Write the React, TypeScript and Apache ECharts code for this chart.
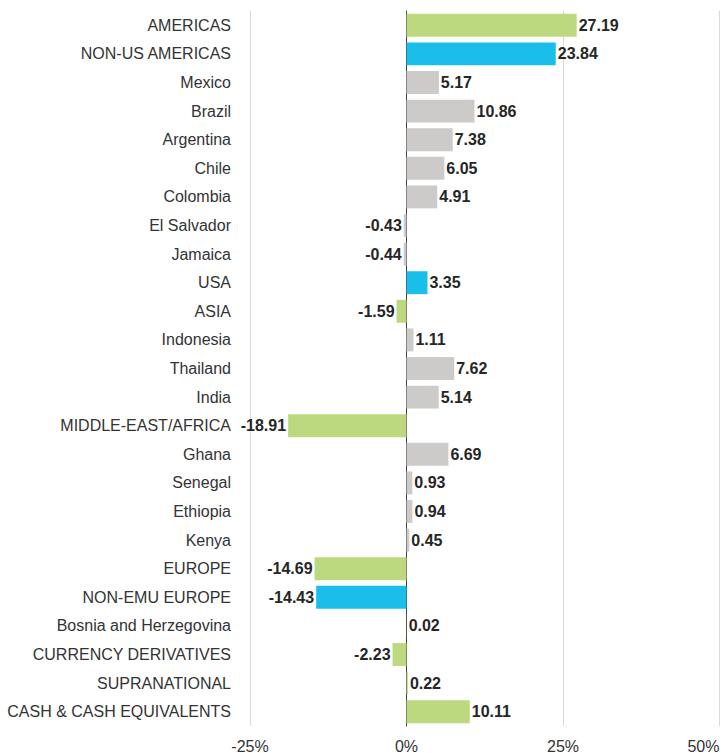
import React, { useEffect, useRef } from "react";
import * as echarts from "echarts";

const categories = [
  "AMERICAS", "NON-US AMERICAS", "Mexico", "Brazil", "Argentina", "Chile", "Colombia",
  "El Salvador", "Jamaica", "USA", "ASIA", "Indonesia", "Thailand", "India",
  "MIDDLE-EAST/AFRICA", "Ghana", "Senegal", "Ethiopia", "Kenya", "EUROPE",
  "NON-EMU EUROPE", "Bosnia and Herzegovina", "CURRENCY DERIVATIVES", "SUPRANATIONAL",
  "CASH & CASH EQUIVALENTS",
];
const values = [
  27.19, 23.84, 5.17, 10.86, 7.38, 6.05, 4.91, -0.43, -0.44, 3.35, -1.59, 1.11, 7.62, 5.14,
  -18.91, 6.69, 0.93, 0.94, 0.45, -14.69, -14.43, 0.02, -2.23, 0.22, 10.11,
];
// g = region/total (green), b = sub-total (blue), c = country (gray)
const kinds = [
  "g", "b", "c", "c", "c", "c", "c", "c", "c", "b", "g", "c", "c", "c",
  "g", "c", "c", "c", "c", "g", "b", "c", "g", "g", "g",
];
const colors: Record<string, string> = { g: "#BDD97F", b: "#19BFEA", c: "#CCCBCA" };
const xTicks = [-25, 0, 25, 50];

export default function App() {
  const ref = useRef<HTMLDivElement>(null);
  useEffect(() => {
    const chart = echarts.init(ref.current!, null, { renderer: "svg" });
    const font = "'Liberation Sans', Arial, sans-serif";
    chart.setOption({
      animation: false,
      grid: {
        left: 250, right: 7.5, top: 11, bottom: 27,
        containLabel: false, outerBoundsMode: "none",
      },
      xAxis: {
        type: "value",
        min: xTicks[0],
        max: xTicks[xTicks.length - 1],
        interval: 25,
        axisLine: { show: false },
        axisTick: { show: false },
        splitLine: { lineStyle: { color: "#D9D9D9", width: 1 } },
        axisLabel: {
          formatter: (v: number) => v + "%",
          color: "#333",
          fontSize: 16,
          fontFamily: font,
          margin: 12,
          alignMaxLabel: "right",
        },
      },
      yAxis: {
        type: "category",
        data: categories,
        inverse: true,
        axisTick: { show: false },
        axisLine: { show: true, onZero: true, lineStyle: { color: "#404040", width: 1 } },
        axisLabel: {
          color: "#333",
          fontSize: 16,
          fontFamily: font,
          margin: 19,
        },
      },
      series: [
        {
          type: "bar",
          barCategoryGap: "20%",
          data: values.map((v, i) => ({
            value: v,
            itemStyle: { color: colors[kinds[i]] },
            label: { position: v < 0 ? "left" : "right" },
          })),
          label: {
            show: true,
            formatter: (p: any) => p.value.toFixed(2),
            color: "#262626",
            fontWeight: "bold",
            fontSize: 16,
            fontFamily: font,
            distance: 2,
          },
        },
      ],
    });
    return () => chart.dispose();
  }, []);
  return (
    <div
      ref={ref}
      style={{ position: "absolute", left: 0, top: 0, width: 727, height: 753 }}
    />
  );
}
